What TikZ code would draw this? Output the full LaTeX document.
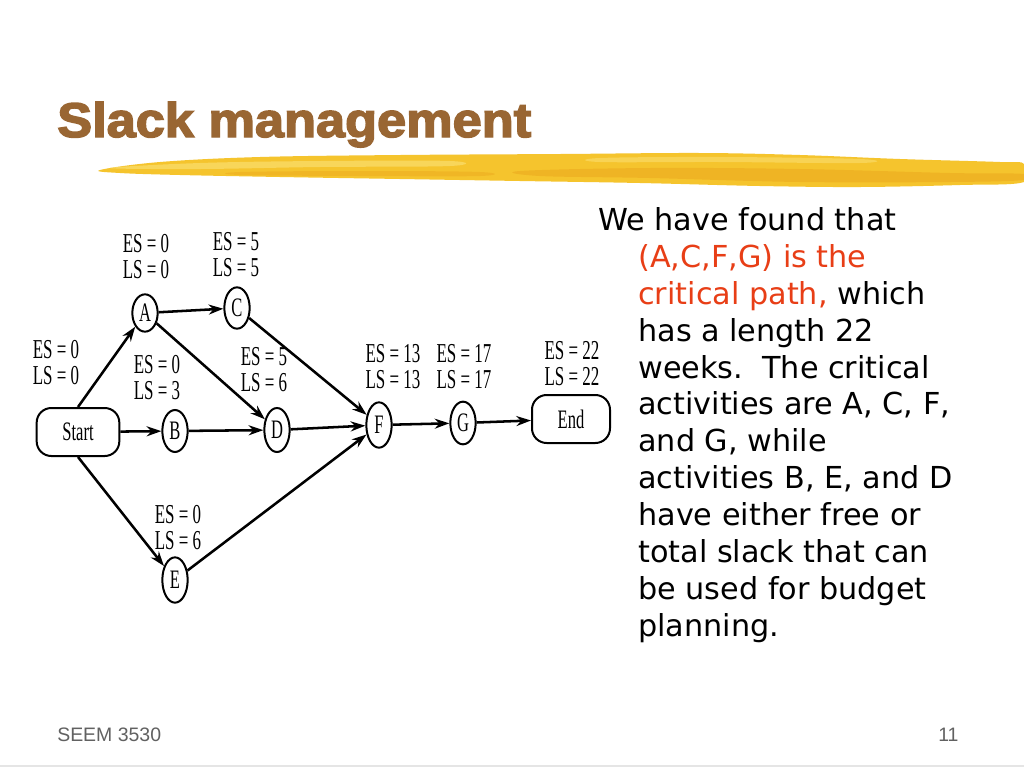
\documentclass[tikz,border=0pt]{standalone}
\usepackage{fontspec}
\usepackage{graphicx}
\setmainfont{Liberation Serif}
\newfontfamily\bodyfont{DejaVu Sans}
\newfontfamily\titlefont{Liberation Sans}[BoldFeatures={FakeBold=3}]
\newfontfamily\footfont{Liberation Sans}
\usetikzlibrary{shapes.geometric,arrows.meta}
\definecolor{titlebrown}{RGB}{153,102,51}
\definecolor{critred}{RGB}{232,62,22}
\definecolor{brushA}{RGB}{245,196,45}
\definecolor{brushB}{RGB}{236,170,30}
\definecolor{brushC}{RGB}{250,222,110}
\newcommand\sq[1]{\scalebox{0.62}[1]{#1}}
\begin{document}
\begin{tikzpicture}[x=0.75pt,y=-0.75pt,
  evt/.style={ellipse, draw, line width=1.5pt, inner sep=0pt, minimum width=19pt,
    font=\fontsize{20}{20}\selectfont},
  term/.style={draw, rounded corners=11pt, line width=1.5pt, inner sep=0pt,
    font=\fontsize{20}{20}\selectfont},
  lbl/.style={align=center, inner sep=0pt, font=\fontsize{20.5}{19.5}\selectfont},
  arr/.style={line width=1.9pt, -{Stealth[length=11pt,width=7.5pt]}},
  body/.style={anchor=base west, inner sep=0pt, font=\bodyfont\fontsize{22.7}{27}\selectfont},
  foot/.style={anchor=base west, inner sep=0pt, text=black!62, font=\footfont\fontsize{14.6}{15}\selectfont}]
\useasboundingbox (0,0) rectangle (1024,768);
\fill[white] (0,0) rectangle (1024,768);

% title
\node[anchor=base west, inner sep=0pt, text=titlebrown] (title) at (57,137)
  {\titlefont\bfseries\fontsize{36.5}{40}\selectfont\scalebox{1.075}[1]{Slack management}};

% brush stroke
\fill[brushA] plot[smooth cycle, tension=0.6] coordinates {
  (100,170) (160,162) (260,157) (400,155) (560,154) (700,153) (800,155) (900,159) (1000,162) (1024,164)
  (1024,182) (960,185) (860,187) (760,186) (640,183) (520,181) (400,179) (280,177) (180,175) (120,173)};
\fill[brushC, opacity=0.7] plot[smooth cycle, tension=0.6] coordinates {
  (110,168) (200,163) (320,161) (450,161) (450,166) (320,167) (200,169)};
\fill[brushB, opacity=0.6] plot[smooth cycle, tension=0.6] coordinates {
  (520,171) (650,168) (800,169) (950,173) (1024,174) (1024,180) (950,182) (800,182) (650,178) (540,176)};
\fill[brushC, opacity=0.6] plot[smooth cycle, tension=0.6] coordinates {
  (600,158) (720,157) (860,159) (860,163) (720,162) (600,162)};
\fill[brushB, opacity=0.5] plot[smooth cycle, tension=0.6] coordinates {
  (240,172) (360,171) (480,172) (480,176) (360,176) (240,175)};

% nodes
\node[term, minimum width=62pt, minimum height=36pt] (start) at (78,432) {\sq{Start}};
\node[term, minimum width=58.5pt, minimum height=36pt] (end) at (571,419) {\sq{End}};
\node[evt, minimum height=28pt] (A) at (145,313) {\sq{A}};
\node[evt, minimum height=31pt] (C) at (237,308) {\sq{C}};
\node[evt, minimum height=31.5pt] (B) at (175,431) {\sq{B}};
\node[evt, minimum height=33pt] (D) at (277,430) {\sq{D}};
\node[evt, minimum height=34pt] (F) at (379,425) {\sq{F}};
\node[evt, minimum height=32pt] (G) at (463,423) {\sq{G}};
\node[evt, minimum height=34pt] (E) at (175,580) {\sq{E}};

% labels
\node[lbl] (lS) at (56,363) {\sq{ES = 0}\\\sq{LS = 0}};
\node[lbl] (lA) at (146,257) {\sq{ES = 0}\\\sq{LS = 0}};
\node[lbl] (lC) at (236,255) {\sq{ES = 5}\\\sq{LS = 5}};
\node[lbl] (lB) at (157,378) {\sq{ES = 0}\\\sq{LS = 3}};
\node[lbl] (lD) at (264,370) {\sq{ES = 5}\\\sq{LS = 6}};
\node[lbl] (lF) at (393,367) {\sq{ES = 13}\\\sq{LS = 13}};
\node[lbl] (lG) at (464,367) {\sq{ES = 17}\\\sq{LS = 17}};
\node[lbl] (lEnd) at (572,364) {\sq{ES = 22}\\\sq{LS = 22}};
\node[lbl] (lE) at (178,528) {\sq{ES = 0}\\\sq{LS = 6}};

% connectors
\draw[arr] (start.north) -- (A);
\draw[arr] (start) -- (B);
\draw[arr] (start.south) -- (E);
\draw[arr] (A) -- (C);
\draw[arr] (A) -- (D);
\draw[arr] (B) -- (D);
\draw[arr] (C) -- (F);
\draw[arr] (D) -- (F);
\draw[arr] (E) -- (F);
\draw[arr] (F) -- (G);
\draw[arr] (G) -- (end);

% body text
\node[body] (t1) at (598,230) {We have found that};
\node[body, text=critred] (t2) at (638,267) {(A,C,F,G) is the};
\node[body] (t3) at (638,304) {\textcolor{critred}{critical path,} which};
\node[body] (t4) at (638,341) {has a length 22};
\node[body] (t5) at (638,378) {weeks.\ \ The critical};
\node[body] (t6) at (638,414) {activities are A, C, F,};
\node[body] (t7) at (638,451) {and G, while};
\node[body] (t8) at (638,488) {activities B, E, and D};
\node[body] (t9) at (638,525) {have either free or};
\node[body] (t10) at (638,562) {total slack that can};
\node[body] (t11) at (638,599) {be used for budget};
\node[body] (t12) at (638,636) {planning.};

% footer
\node[foot] (f1) at (57,741) {SEEM 3530};
\node[foot] (f2) at (938,741) {11};
\draw[black!10, line width=0.8pt] (0,766) -- (1024,766);
\end{tikzpicture}
\end{document}
